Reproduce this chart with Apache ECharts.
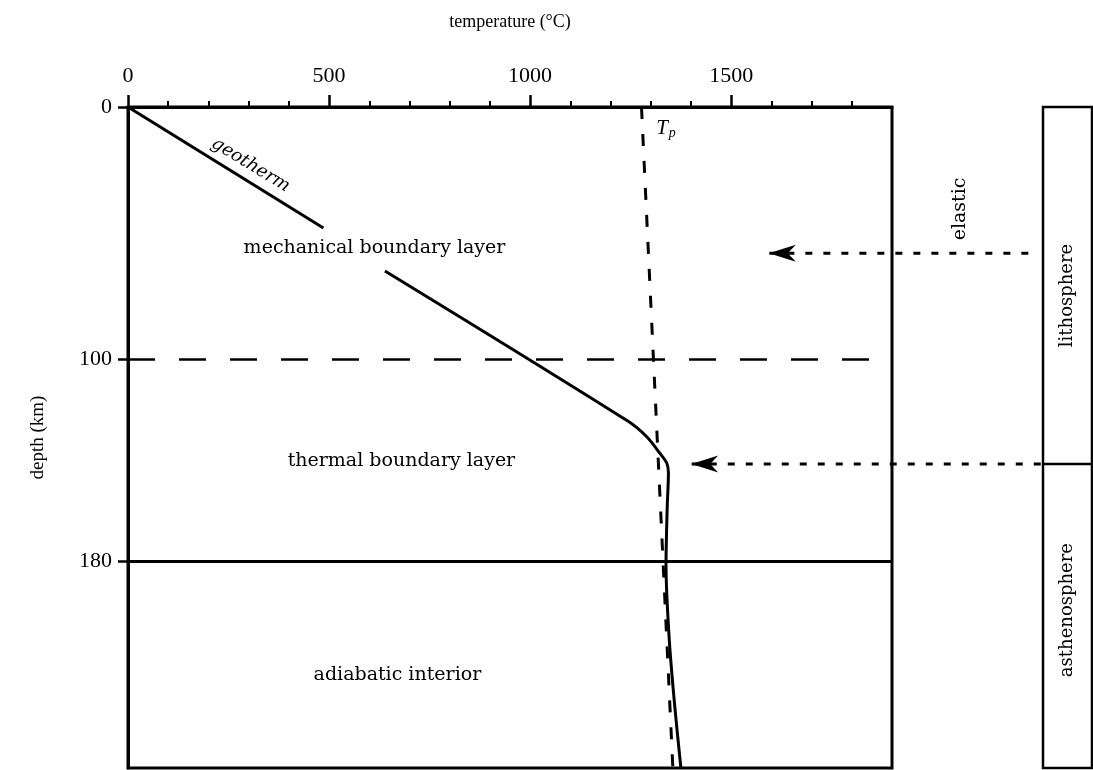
<!DOCTYPE html>
<html>
<head>
<meta charset="utf-8">
<title>geotherm</title>
<script src="https://cdn.jsdelivr.net/npm/echarts@6.0.0/dist/echarts.min.js"></script>
<style>
html, body { margin: 0; padding: 0; background: #fff; }
#main { width: 1093px; height: 770px; }
</style>
</head>
<body>
<div id="main"></div>
<script>
// axis ticks (temperature in °C, depth in km)
var tempTicks = [0, 500, 1000, 1500];
var tempMinorTicks = [100, 200, 300, 400, 600, 700, 800, 900, 1100, 1200, 1300, 1400, 1600, 1700, 1800];
var depthTicks = [0, 100, 180];

// geotherm, in two pieces (gap where the label sits)
var geoUpperTemp = [0, 486];
var geoUpperDepth = [0, 48];
var geoLowerTemp = [639, 1241, 1290, 1323, 1340, 1344, 1341, 1338, 1346, 1360, 1375];
var geoLowerDepth = [65, 124.3, 130.7, 137.3, 141.2, 145.1, 158.5, 181.5, 211, 238, 262];

// adiabat through the potential temperature Tp
var adiabatTemp = [1277, 1355];
var adiabatDepth = [0, 262];

// layer boundaries (km)
var mblBase = 100;
var tblBase = 180;
var elasticBase = 58;
var lithoBase = 141.5;

// where the arrows point to (°C) and where they start, at the side column
var elasticArrowTemp = [1595, 2243];
var lithoArrowTemp = [1402, 2275];

var regionNames = ['mechanical boundary layer', 'thermal boundary layer', 'adiabatic interior'];
var columnNames = ['lithosphere', 'asthenosphere'];

function pairs(xs, ys) {
    return xs.map(function (x, i) { return [x, ys[i]]; });
}

var W = 1093;
var plotLeft = 128, plotRight = 201, tempMax = 1900;
// overlay spanning plot + side column, same °C scale as the plot
var overlayMax = tempMax * (W - 1 - plotLeft) / (W - plotRight - plotLeft);

var serif = 'Liberation Serif';
var inner = 'DejaVu Serif';
var arrowHead = 'path://M0,5L10,0L7,5L10,10Z';

function arrowData(temps, depth) {
    return [
        {value: [temps[0], depth], symbol: arrowHead, symbolSize: [27, 17], symbolOffset: [13, 0]},
        {value: [temps[1], depth], symbol: 'none'}
    ];
}

var myChart = echarts.init(document.getElementById('main'));

var option = {
    backgroundColor: '#fff',
    animation: false,
    grid: [{
        left: plotLeft, right: plotRight, top: 107, bottom: 2,
        show: true, borderColor: '#000', borderWidth: 3
    }, {
        left: 1043, right: 1, top: 107, bottom: 2,
        show: true, borderColor: '#000', borderWidth: 2.5
    }, {
        left: plotLeft, right: 1, top: 107, bottom: 2,
        show: false
    }],
    xAxis: [{
        gridIndex: 0,
        type: 'value',
        position: 'top',
        min: 0,
        max: tempMax,
        name: 'temperature (°C)',
        nameLocation: 'middle',
        nameGap: 76,
        nameTextStyle: {fontFamily: serif, fontSize: 18, color: '#000'},
        axisLine: {show: true, lineStyle: {color: '#000', width: 3}},
        axisTick: {show: true, length: 12, customValues: tempTicks, lineStyle: {color: '#000', width: 2.5}},
        axisLabel: {
            customValues: tempTicks, margin: 20, fontFamily: serif, fontSize: 22, color: '#000',
            formatter: function (v) { return String(v); }
        },
        splitLine: {show: false}
    }, {
        gridIndex: 0,
        type: 'value',
        position: 'top',
        min: 0,
        max: tempMax,
        axisLine: {show: false},
        axisTick: {show: true, length: 6, customValues: tempMinorTicks, lineStyle: {color: '#000', width: 2}},
        axisLabel: {show: false},
        splitLine: {show: false}
    }, {
        gridIndex: 1,
        type: 'value',
        min: 0,
        max: 1,
        show: false
    }, {
        gridIndex: 2,
        type: 'value',
        min: 0,
        max: overlayMax,
        show: false
    }],
    yAxis: [{
        gridIndex: 0,
        type: 'value',
        inverse: true,
        min: 0,
        max: 262,
        name: 'depth (km)',
        nameLocation: 'middle',
        nameGap: 80,
        nameTextStyle: {fontFamily: serif, fontSize: 19, color: '#000'},
        axisLine: {show: true, lineStyle: {color: '#000', width: 3}},
        axisTick: {show: true, length: 10, customValues: depthTicks, lineStyle: {color: '#000', width: 2.5}},
        axisLabel: {customValues: depthTicks, margin: 16, fontFamily: serif, fontSize: 22, color: '#000'},
        splitLine: {show: false}
    }, {
        gridIndex: 1,
        type: 'value',
        inverse: true,
        min: 0,
        max: 262,
        show: false
    }, {
        gridIndex: 2,
        type: 'value',
        inverse: true,
        min: 0,
        max: 262,
        show: false
    }],
    series: [{
        // geotherm, upper piece
        type: 'line',
        xAxisIndex: 0, yAxisIndex: 0,
        data: pairs(geoUpperTemp, geoUpperDepth),
        showSymbol: false,
        lineStyle: {color: '#000', width: 3}
    }, {
        // geotherm, lower piece
        type: 'line',
        xAxisIndex: 0, yAxisIndex: 0,
        data: pairs(geoLowerTemp, geoLowerDepth),
        showSymbol: false,
        smooth: 0.3,
        lineStyle: {color: '#000', width: 3}
    }, {
        // Tp adiabat
        type: 'line',
        xAxisIndex: 0, yAxisIndex: 0,
        data: pairs(adiabatTemp, adiabatDepth),
        showSymbol: false,
        lineStyle: {color: '#000', width: 3, type: [12, 15]}
    }, {
        // boundaries of the mechanical / thermal boundary layer
        type: 'line',
        xAxisIndex: 0, yAxisIndex: 0,
        data: [],
        markLine: {
            silent: true,
            symbol: ['none', 'none'],
            label: {show: false},
            data: [
                {yAxis: mblBase, lineStyle: {color: '#000', width: 2.5, type: [27, 24]}},
                {yAxis: tblBase, lineStyle: {color: '#000', width: 3, type: 'solid'}}
            ]
        }
    }, {
        // elastic thickness arrow
        type: 'line',
        xAxisIndex: 3, yAxisIndex: 2,
        data: arrowData(elasticArrowTemp, elasticBase),
        showSymbol: true,
        itemStyle: {color: '#000', opacity: 1},
        lineStyle: {color: '#000', width: 3, type: [7, 11]}
    }, {
        // base of lithosphere arrow
        type: 'line',
        xAxisIndex: 3, yAxisIndex: 2,
        data: arrowData(lithoArrowTemp, lithoBase),
        showSymbol: true,
        itemStyle: {color: '#000', opacity: 1},
        lineStyle: {color: '#000', width: 3, type: [7, 11]}
    }, {
        // lithosphere / asthenosphere divide
        type: 'line',
        xAxisIndex: 2, yAxisIndex: 1,
        data: [[0, lithoBase], [1, lithoBase]],
        showSymbol: false,
        lineStyle: {color: '#000', width: 2.5}
    }, {
        // text in the main panel
        type: 'scatter',
        xAxisIndex: 3, yAxisIndex: 2,
        symbolSize: 0,
        silent: true,
        itemStyle: {opacity: 1},
        label: {
            show: true,
            position: 'inside',
            formatter: '{b}',
            fontFamily: inner,
            fontSize: 19,
            color: '#000',
            opacity: 1
        },
        data: [
            {name: regionNames[0], value: [613, 56]},
            {name: regionNames[1], value: [680, 140.3]},
            {name: regionNames[2], value: [670, 225]},
            {name: 'geotherm', value: [305, 23], label: {rotate: -31.5, fontStyle: 'italic', fontSize: 18}},
            {name: 'elastic', value: [2069, 40.4], label: {rotate: 90, fontSize: 19}},
            {name: 'Tp', value: [1338, 8.7], label: {
                formatter: '{t|T}{s|p}',
                rich: {
                    t: {fontFamily: serif, fontStyle: 'italic', fontSize: 21, color: '#000'},
                    s: {fontFamily: serif, fontStyle: 'italic', fontSize: 14, color: '#000', padding: [9, 0, 0, 1]}
                }
            }}
        ]
    }, {
        // text in the side column
        type: 'scatter',
        xAxisIndex: 2, yAxisIndex: 1,
        symbolSize: 0,
        silent: true,
        itemStyle: {opacity: 1},
        label: {
            show: true,
            position: 'inside',
            formatter: '{b}',
            rotate: 90,
            fontFamily: inner,
            fontSize: 18,
            color: '#000',
            opacity: 1
        },
        data: [
            {name: columnNames[0], value: [0.5, 74.7]},
            {name: columnNames[1], value: [0.5, 199.4]}
        ]
    }]
};

myChart.setOption(option);
</script>
</body>
</html>
